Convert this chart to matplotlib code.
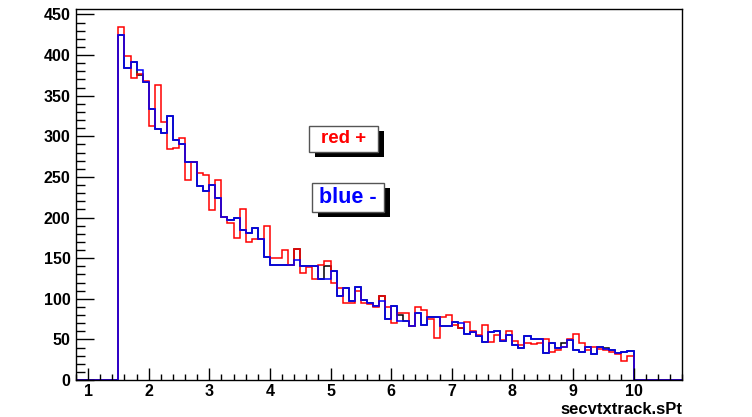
import numpy as np
import matplotlib
matplotlib.use("Agg")
import matplotlib.pyplot as plt
from matplotlib.patches import Rectangle
from matplotlib.ticker import MultipleLocator

plt.rcParams["font.family"] = ["Liberation Sans", "DejaVu Sans"]
plt.rcParams["font.weight"] = "bold"

# ── 데이터 ────────────────────────────────────────────────────────────────────
# histogram: 0.8 .. 10.8, bin width 0.1, filled bins start at 1.5
BIN_LO, BIN_HI, BIN_W = 0.8, 10.8, 0.1
DATA_LO = 1.5

red_counts = [
    435, 399, 372, 377, 368, 313, 363, 318, 285, 286,
    298, 246, 268, 255, 252, 209, 246, 201, 193, 175,
    210, 170, 173, 174, 190, 150, 150, 160, 142, 161,
    132, 139, 124, 142, 147, 119, 113, 95, 95, 109,
    95, 93, 90, 103, 90, 70, 83, 83, 67, 90,
    86, 75, 52, 78, 80, 68, 64, 71, 60, 56,
    68, 47, 56, 49, 60, 48, 43, 45, 44, 45,
    51, 35, 37, 41, 50, 57, 45, 37, 41, 38,
    37, 35, 32, 24, 30,
]

blue_counts = [
    425, 384, 391, 382, 367, 334, 309, 304, 325, 296,
    290, 269, 268, 239, 233, 240, 224, 201, 197, 200,
    185, 181, 187, 173, 152, 142, 142, 142, 142, 148,
    140, 140, 140, 124, 124, 134, 104, 113, 97, 115,
    98, 95, 91, 97, 75, 91, 73, 73, 67, 83,
    68, 78, 78, 66, 66, 72, 70, 57, 59, 54,
    47, 59, 60, 48, 56, 43, 40, 54, 50, 50,
    33, 46, 39, 41, 49, 37, 34, 41, 32, 41,
    38, 37, 33, 35, 36,
]

black_counts = [
    425, 384, 391, 375, 367, 334, 309, 304, 325, 296,
    290, 269, 268, 239, 233, 240, 224, 201, 197, 200,
    185, 181, 187, 173, 152, 142, 142, 142, 142, 161,
    140, 140, 140, 124, 140, 134, 104, 113, 97, 115,
    98, 95, 91, 103, 75, 91, 80, 73, 67, 83,
    68, 78, 78, 66, 66, 72, 64, 57, 59, 54,
    47, 59, 60, 48, 56, 43, 40, 54, 50, 50,
    33, 46, 39, 45, 49, 37, 34, 41, 32, 41,
    40, 37, 33, 35, 36,
]

x_label = "secvtxtrack.sPt"
labels = [("red +", "red"), ("blue -", "blue")]

# ── 그리기 ────────────────────────────────────────────────────────────────────
W, H = 752, 417


def _fig_rect(x0, y0, x1, y1):
    """pixel box (top-left origin) -> figure fraction (x, y, w, h)."""
    return x0 / W, 1 - y1 / H, (x1 - x0) / W, (y1 - y0) / H


fig = plt.figure(figsize=(W / 100, H / 100), dpi=100)
ax = fig.add_axes(_fig_rect(76, 9, 682, 380))

edges = np.linspace(BIN_LO, BIN_HI, int(round((BIN_HI - BIN_LO) / BIN_W)) + 1)
n_before = int(round((DATA_LO - BIN_LO) / BIN_W))


def _full(counts):
    vals = np.zeros(len(edges) - 1)
    vals[n_before:n_before + len(counts)] = counts
    return vals


ax.stairs(_full(black_counts), edges, color="black", lw=1.1)
ax.stairs(_full(red_counts), edges, color="red", lw=1.1)
ax.stairs(_full(blue_counts), edges, color="blue", lw=1.1)

ymax = 1.05 * max(max(red_counts), max(blue_counts), max(black_counts))
ax.set_xlim(BIN_LO, BIN_HI)
ax.set_ylim(0, ymax)

ax.xaxis.set_major_locator(MultipleLocator(1))
ax.xaxis.set_minor_locator(MultipleLocator(0.2))
ax.yaxis.set_major_locator(MultipleLocator(50))
ax.yaxis.set_minor_locator(MultipleLocator(10))
ax.tick_params(which="both", direction="in", top=False, right=False,
               labelsize=11.5, width=1)
ax.tick_params(axis="x", which="major", length=9, pad=3)
ax.tick_params(axis="x", which="minor", length=4.5)
ax.tick_params(axis="y", which="major", length=13, pad=4)
ax.tick_params(axis="y", which="minor", length=6.5)
for sp in ax.spines.values():
    sp.set_linewidth(1)

fig.text(682 / W, 1 - 409 / H, x_label, ha="right", va="center",
         fontsize=12, fontweight="bold")

# ── 라벨 박스 (ROOT TPaveText + 그림자) ───────────────────────────────────────
boxes = [(309, 126, 378, 152, 13.5), (312, 183, 384, 212, 15.5)]
for (txt, col), (x0, y0, x1, y1, fs) in zip(labels, boxes):
    sx, sy = 6, 5
    fig.patches.append(Rectangle(_fig_rect(x0 + sx, y0 + sy, x1 + sx, y1 + sy)[:2],
                                 (x1 - x0) / W, (y1 - y0) / H,
                                 transform=fig.transFigure, facecolor="black",
                                 edgecolor="none", zorder=5))
    fig.patches.append(Rectangle(_fig_rect(x0, y0, x1, y1)[:2],
                                 (x1 - x0) / W, (y1 - y0) / H,
                                 transform=fig.transFigure, facecolor="white",
                                 edgecolor="#555555", lw=1, zorder=6))
    fig.text((x0 + x1) / 2 / W, 1 - (y0 + y1) / 2 / H, txt, color=col,
             ha="center", va="center", fontsize=fs, fontweight="bold", zorder=7)

fig.savefig("out.png", dpi=100)
